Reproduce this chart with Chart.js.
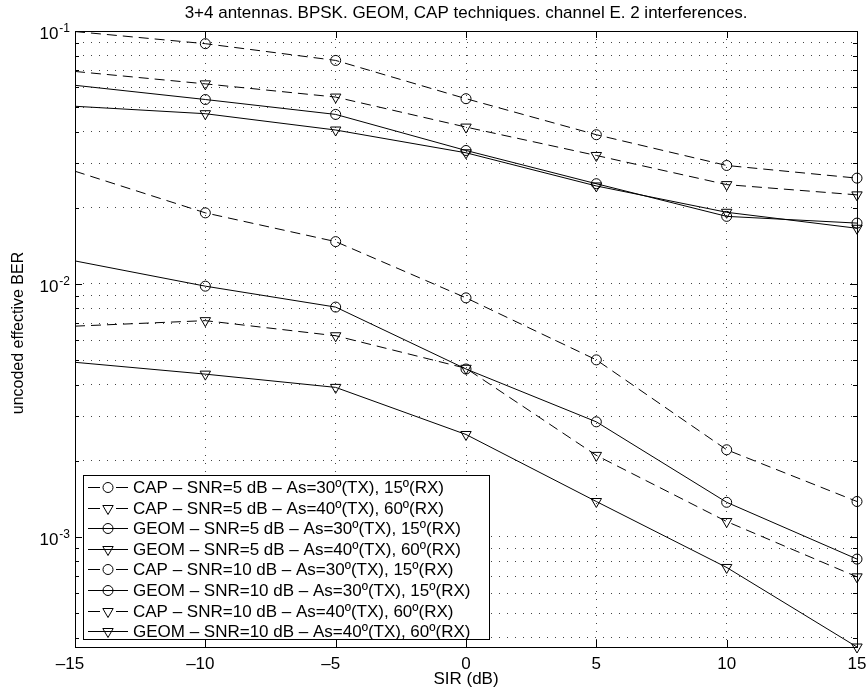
<!DOCTYPE html>
<html>
<head>
<meta charset="utf-8">
<script src="https://cdn.jsdelivr.net/npm/chart.js@4/dist/chart.umd.min.js"></script>
<style>
  html, body { margin: 0; padding: 0; background: #fff; }
  canvas { display: block; }
</style>
</head>
<body>
<canvas id="ber" width="868" height="695"></canvas>
<script>
// SIR (dB) sample points
const SIR = [-15, -10, -5, 0, 5, 10, 15];

// BER curves
const capSnr5As30 = [0.0995, 0.0891, 0.0765, 0.0540, 0.0389, 0.0294, 0.0262];
const capSnr5As40 = [0.0692, 0.0618, 0.0548, 0.0417, 0.0322, 0.0247, 0.0225];
const geomSnr5As30 = [0.0610, 0.0536, 0.0468, 0.0337, 0.0249, 0.0185, 0.0174];
const geomSnr5As40 = [0.0504, 0.0471, 0.0406, 0.0330, 0.0244, 0.0192, 0.0166];
const capSnr10As30 = [0.0279, 0.0191, 0.0147, 0.00881, 0.00501, 0.00221, 0.00138];
const geomSnr10As30 = [0.01233, 0.0098, 0.0081, 0.00461, 0.00285, 0.00137, 0.000817];
const capSnr10As40 = [0.00681, 0.00716, 0.00624, 0.00464, 0.00210, 0.00115, 0.000695];
const geomSnr10As40 = [0.00490, 0.00440, 0.00390, 0.00254, 0.00138, 0.000757, 0.000367];

const X_TICKS = [-15, -10, -5, 0, 5, 10, 15];
const Y_DECADES = [1e-3, 1e-2, 1e-1];
const Y_MIN = 3.67e-4;
const Y_MAX = 0.1;

const TITLE = '3+4 antennas. BPSK. GEOM, CAP techniques. channel E. 2 interferences.';
const X_TITLE = 'SIR (dB)';
const Y_TITLE = 'uncoded effective BER';
const FONT = '"Liberation Sans", Arial, Helvetica, sans-serif';

const DASH = [10, 6];

function series(label, values, dashed, marker) {
    const tri = marker === 'triangle';
    const r = tri ? 6 : 5;
    return {
        label,
        data: values.map((v, i) => ({ x: SIR[i], y: v })),
        borderColor: '#000',
        backgroundColor: 'rgba(0,0,0,0)',
        borderWidth: 1,
        borderDash: dashed ? DASH : [],
        pointStyle: marker,
        pointRotation: tri ? 180 : 0,
        // the curves enter from the left edge with no marker at -15
        pointRadius: values.map((v, i) => (i === 0 ? 0 : r)),
        markerSize: r,
        pointBorderWidth: 1,
        pointBorderColor: '#000',
        pointBackgroundColor: 'rgba(0,0,0,0)',
        tension: 0,
        fill: false,
        clip: false,
    };
}

const datasets = [
    series('CAP – SNR=5 dB – As=30º(TX), 15º(RX)', capSnr5As30, true, 'circle'),
    series('CAP – SNR=5 dB – As=40º(TX), 60º(RX)', capSnr5As40, true, 'triangle'),
    series('GEOM – SNR=5 dB – As=30º(TX), 15º(RX)', geomSnr5As30, false, 'circle'),
    series('GEOM – SNR=5 dB – As=40º(TX), 60º(RX)', geomSnr5As40, false, 'triangle'),
    series('CAP – SNR=10 dB – As=30º(TX), 15º(RX)', capSnr10As30, true, 'circle'),
    series('GEOM – SNR=10 dB – As=30º(TX), 15º(RX)', geomSnr10As30, false, 'circle'),
    series('CAP – SNR=10 dB – As=40º(TX), 60º(RX)', capSnr10As40, true, 'triangle'),
    series('GEOM – SNR=10 dB – As=40º(TX), 60º(RX)', geomSnr10As40, false, 'triangle'),
];

// every 1..9 x 10^k inside the range, for the dotted minor grid
function logTicks() {
    const out = [];
    for (let e = -4; e <= -1; e++) {
        for (let m = 1; m <= 9; m++) {
            const v = m * Math.pow(10, e);
            if (v >= Y_MIN * 0.999 && v <= Y_MAX * 1.001) out.push({ value: v });
        }
    }
    return out;
}

const isDecade = (v) => Math.abs(Math.log10(v) - Math.round(Math.log10(v))) < 1e-6;

// frame, inward ticks, labels, titles and the boxed legend, matlab style
const matlabFrame = {
    id: 'matlabFrame',
    afterDatasetsDraw(chart) {
        const { ctx, chartArea: a, scales } = chart;
        const xs = scales.x, ys = scales.y;
        ctx.save();
        ctx.strokeStyle = '#000';
        ctx.fillStyle = '#000';
        ctx.lineWidth = 1;
        ctx.setLineDash([]);

        ctx.strokeRect(Math.round(a.left) + 0.5, Math.round(a.top) + 0.5,
            Math.round(a.right - a.left), Math.round(a.bottom - a.top));

        ctx.beginPath();
        X_TICKS.forEach((t) => {
            const px = Math.round(xs.getPixelForValue(t)) + 0.5;
            ctx.moveTo(px, a.bottom); ctx.lineTo(px, a.bottom - 7);
            ctx.moveTo(px, a.top); ctx.lineTo(px, a.top + 7);
        });
        logTicks().forEach(({ value }) => {
            const py = Math.round(ys.getPixelForValue(value)) + 0.5;
            const len = isDecade(value) ? 7 : 4;
            ctx.moveTo(a.left, py); ctx.lineTo(a.left + len, py);
            ctx.moveTo(a.right, py); ctx.lineTo(a.right - len, py);
        });
        ctx.stroke();

        // x tick labels
        ctx.font = `17px ${FONT}`;
        ctx.textAlign = 'center';
        ctx.textBaseline = 'middle';
        X_TICKS.forEach((t) => {
            const txt = t < 0 ? '–' + Math.abs(t) : String(t);
            const shift = t < 0 ? -5 : 0;
            ctx.fillText(txt, xs.getPixelForValue(t) + shift, 664);
        });

        // y tick labels 10^k
        Y_DECADES.forEach((v) => {
            const py = ys.getPixelForValue(v);
            const exp = '-' + Math.abs(Math.round(Math.log10(v)));
            ctx.textBaseline = 'alphabetic';
            ctx.font = `12px ${FONT}`;
            ctx.textAlign = 'right';
            ctx.fillText(exp, a.left - 5, py + 1);
            const ew = ctx.measureText(exp).width;
            ctx.font = `17px ${FONT}`;
            ctx.fillText('10', a.left - 6 - ew, py + 8);
        });

        // titles
        ctx.font = `17px ${FONT}`;
        ctx.textAlign = 'center';
        ctx.textBaseline = 'middle';
        ctx.fillText(TITLE, (a.left + a.right) / 2, 13);
        ctx.fillText(X_TITLE, (a.left + a.right) / 2, 679);
        ctx.save();
        ctx.translate(19, 333);
        ctx.rotate(-Math.PI / 2);
        ctx.font = `16px ${FONT}`;
        ctx.fillText(Y_TITLE, 0, 0);
        ctx.restore();

        // legend
        const lx = 83, ly = 475, lw = 406, lh = 164, row = 20.6;
        ctx.fillStyle = '#fff';
        ctx.fillRect(lx, ly, lw, lh);
        ctx.fillStyle = '#000';
        ctx.strokeRect(lx + 0.5, ly + 0.5, lw, lh);
        ctx.font = `17px ${FONT}`;
        ctx.textAlign = 'left';
        ctx.textBaseline = 'middle';
        chart.data.datasets.forEach((ds, i) => {
            const cy = Math.round(ly + 12 + i * row) + 0.5;
            ctx.setLineDash(ds.borderDash.length ? [12, 16] : []);
            ctx.beginPath();
            ctx.moveTo(88, cy);
            ctx.lineTo(128, cy);
            ctx.stroke();
            ctx.setLineDash([]);
            ctx.save();
            ctx.fillStyle = 'rgba(0,0,0,0)';
            Chart.helpers.drawPoint(ctx, {
                pointStyle: ds.pointStyle,
                rotation: ds.pointRotation,
                radius: ds.markerSize,
                borderWidth: 1,
            }, 108, cy);
            ctx.restore();
            ctx.fillText(ds.label, 133, cy + 1);
        });
        ctx.restore();
    },
};

new Chart(document.getElementById('ber'), {
    type: 'line',
    data: { datasets },
    options: {
        responsive: false,
        animation: false,
        devicePixelRatio: 1,
        layout: { padding: { left: 75, right: 11, top: 31, bottom: 48 } },
        plugins: {
            legend: { display: false },
            tooltip: { enabled: false },
            title: { display: false },
        },
        scales: {
            x: {
                type: 'linear',
                min: -15,
                max: 15,
                afterBuildTicks: (s) => { s.ticks = X_TICKS.map((v) => ({ value: v })); },
                ticks: { display: false },
                grid: { color: '#444', lineWidth: 1, drawTicks: false },
                border: { display: false, dash: [1, 7] },
            },
            y: {
                type: 'logarithmic',
                min: Y_MIN,
                max: Y_MAX,
                afterBuildTicks: (s) => { s.ticks = logTicks(); },
                ticks: { display: false },
                grid: { color: '#444', lineWidth: 1, drawTicks: false },
                border: { display: false, dash: [1, 7] },
            },
        },
    },
    plugins: [matlabFrame],
});
</script>
</body>
</html>
